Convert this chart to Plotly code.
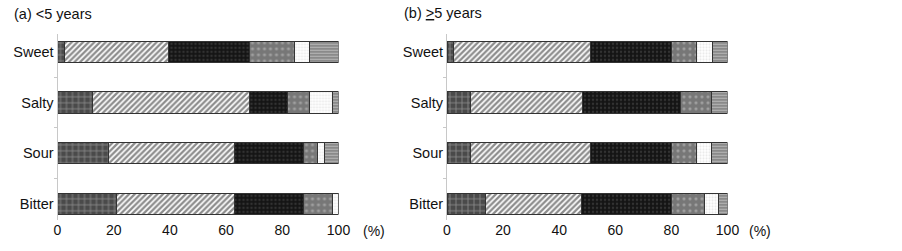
import plotly.graph_objects as go

tastes = ["Sweet", "Salty", "Sour", "Bitter"]
tick_vals = [0, 20, 40, 60, 80, 100]

# (a) <5 years : six response groups, values in % for Sweet, Salty, Sour, Bitter
a_g1 = [2.5, 12.6, 18.0, 21.0]
a_g2 = [37.0, 55.7, 45.0, 42.0]
a_g3 = [29.0, 13.6, 24.4, 24.4]
a_g4 = [16.0, 7.9, 5.1, 10.4]
a_g5 = [5.3, 7.9, 2.4, 2.2]
a_g6 = [10.2, 2.3, 5.1, 0.0]

# (b) >=5 years
b_g1 = [2.3, 8.5, 8.2, 13.6]
b_g2 = [48.8, 39.8, 42.9, 34.5]
b_g3 = [29.1, 34.9, 29.1, 32.1]
b_g4 = [8.7, 11.0, 8.7, 11.6]
b_g5 = [5.6, 0.0, 5.3, 5.1]
b_g6 = [5.5, 5.8, 5.8, 3.1]

styles = [
    dict(color="#4a4a4a", pattern=dict(shape="+", fgcolor="#cfcfcf", size=6, solidity=0.25, fillmode="overlay")),
    dict(color="#ffffff", pattern=dict(shape="/", fgcolor="#1a1a1a", size=4, solidity=0.58, fillmode="overlay")),
    dict(color="#141414", pattern=dict(shape=".", fgcolor="#505050", size=4, solidity=0.3, fillmode="overlay")),
    dict(color="#777777", pattern=dict(shape=".", fgcolor="#c8c8c8", size=6, solidity=0.22, fillmode="overlay")),
    dict(color="#ffffff", pattern=dict(shape=".", fgcolor="#d0d0d0", size=3, solidity=0.4, fillmode="overlay")),
    dict(color="#8a8a8a", pattern=dict(shape="-", fgcolor="#e2e2e2", size=3, solidity=0.35, fillmode="overlay")),
]

fig = go.Figure()
for panel, groups in (("", [a_g1, a_g2, a_g3, a_g4, a_g5, a_g6]),
                      ("2", [b_g1, b_g2, b_g3, b_g4, b_g5, b_g6])):
    for i, vals in enumerate(groups):
        st = styles[i]
        fig.add_trace(go.Bar(
            x=vals, y=tastes, orientation="h",
            xaxis="x" + panel, yaxis="y" + panel,
            marker=dict(color=st["color"], pattern=st["pattern"],
                        line=dict(color="#333333", width=1)),
            showlegend=False, hoverinfo="skip",
        ))

fam = "Arial, Liberation Sans, sans-serif"
tick_font = dict(family=fam, size=14, color="#111111")
cat_font = dict(family=fam, size=14.5, color="#111111")
title_font = dict(family=fam, size=14.5, color="#111111")
W, H = 902, 251

xcommon = dict(range=[0, 100], tickvals=tick_vals, showgrid=False, zeroline=False,
               showline=False, ticks="", tickfont=tick_font, fixedrange=True)
ycommon = dict(autorange=False, range=[3.33, -0.36], showgrid=False, zeroline=False,
               showline=True, linecolor="#c8c8c8", linewidth=1,
               ticks="outside", ticklen=3, tickcolor="#c8c8c8", tickson="boundaries",
               tickfont=cat_font, type="category", categoryorder="array", categoryarray=tastes,
               fixedrange=True)

ydom = [1 - 220.4 / H, 1 - 33.8 / H]

fig.update_layout(
    width=W, height=H,
    template="none",
    barmode="stack", bargap=0.58,
    margin=dict(l=0, r=0, t=0, b=0),
    paper_bgcolor="white", plot_bgcolor="white",
    font=tick_font,
    xaxis=dict(domain=[57.5 / W, 338.5 / W], anchor="y", **xcommon),
    yaxis=dict(domain=ydom, anchor="x", **ycommon),
    xaxis2=dict(domain=[447 / W, 727.5 / W], anchor="y2", **xcommon),
    yaxis2=dict(domain=ydom, anchor="x2", **ycommon),
    annotations=[
        dict(text="(a) <5 years", x=12 / W, y=1 - 14 / H, xref="paper", yref="paper",
             xanchor="left", yanchor="middle", showarrow=False, font=title_font),
        dict(text="(b) <u>&gt;</u>5 years", x=402 / W, y=1 - 13 / H, xref="paper", yref="paper",
             xanchor="left", yanchor="middle", showarrow=False, font=title_font),
        dict(text="(%)", x=374 / W, y=1 - 231 / H, xref="paper", yref="paper",
             xanchor="center", yanchor="middle", showarrow=False, font=tick_font),
        dict(text="(%)", x=760 / W, y=1 - 231 / H, xref="paper", yref="paper",
             xanchor="center", yanchor="middle", showarrow=False, font=tick_font),
    ],
)

fig.write_html("out.html", config={"displayModeBar": False},
               post_script="document.body.style.margin='0';")
